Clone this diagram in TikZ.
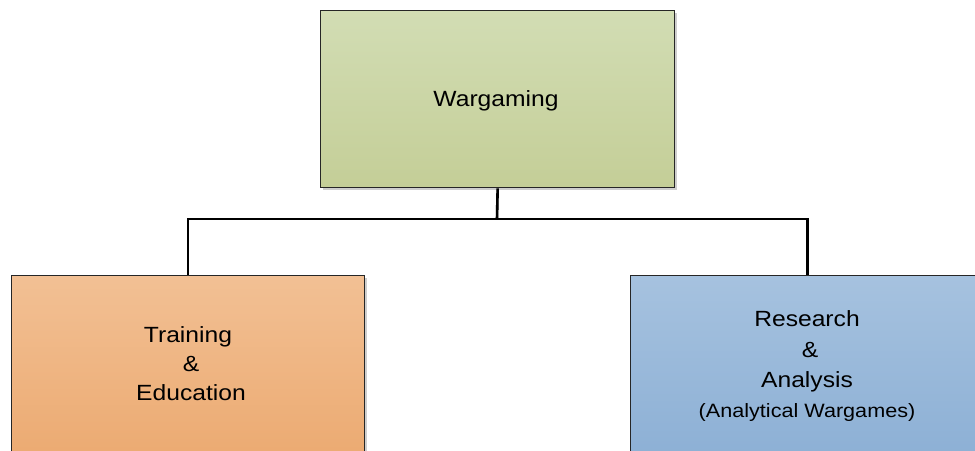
\documentclass[tikz,border=0pt]{standalone}
\usepackage{fontspec}
\setmainfont{Liberation Sans}[FakeStretch=1.12]
\begin{document}
\begin{tikzpicture}[x=1pt,y=-1pt,
  box/.style={draw=black!85, line width=1.3pt, anchor=north west, inner sep=0pt},
  boxshadow/.style={fill=black!35, opacity=0.55},
  label/.style={font=\fontsize{22}{30}\selectfont, align=center, inner sep=0pt, anchor=base},
  small/.style={font=\fontsize{19.3}{30}\selectfont, inner sep=0pt, anchor=base},
  link/.style={line width=2.6pt, black},
  linkshadow/.style={line width=2.6pt, black!30}]
\useasboundingbox (0,0) rectangle (975,450);
\clip (0,0) rectangle (975,450);
% drop shadows behind the boxes
\fill[boxshadow] (323,13) rectangle (677,190);
\fill[boxshadow] (14,278) rectangle (367,480);
\fill[boxshadow] (633,278) rectangle (990,480);
% boxes
\node[box, minimum width=354pt, minimum height=177pt,
      top color={rgb,255:red,210;green,221;blue,180},
      bottom color={rgb,255:red,196;green,206;blue,151}] (top) at (320,10) {};
\node[box, minimum width=353pt, minimum height=200pt,
      top color={rgb,255:red,242;green,192;blue,148},
      bottom color={rgb,255:red,235;green,168;blue,110}] (left) at (11,275) {};
\node[box, minimum width=354pt, minimum height=200pt,
      top color={rgb,255:red,166;green,194;blue,223},
      bottom color={rgb,255:red,138;green,174;blue,212}] (right) at (630,275) {};
% connectors
\coordinate (j) at (497,219);
\begin{scope}[shift={(1.8,1.8)}]
\draw[linkshadow] (top.south) -- (j);
\draw[linkshadow] (j) -| (left.north);
\draw[linkshadow] (j) -| (right.north);
\end{scope}
\draw[link] (top.south) -- (j);
\draw[link] (j) -| (left.north);
\draw[link] (j) -| (right.north);
% texts
\node[label] (t1) at (496,106) {Wargaming};
\node[label] (l1) at (188,342) {Training};
\node[label] (l2) at (191,371) {\&};
\node[label] (l3) at (191,400) {Education};
\node[label] (r1) at (807,326) {Research};
\node[label] (r2) at (810,357) {\&};
\node[label] (r3) at (807,387) {Analysis};
\node[small] (r4) at (807,417) {(Analytical Wargames)};
\end{tikzpicture}
\end{document}
